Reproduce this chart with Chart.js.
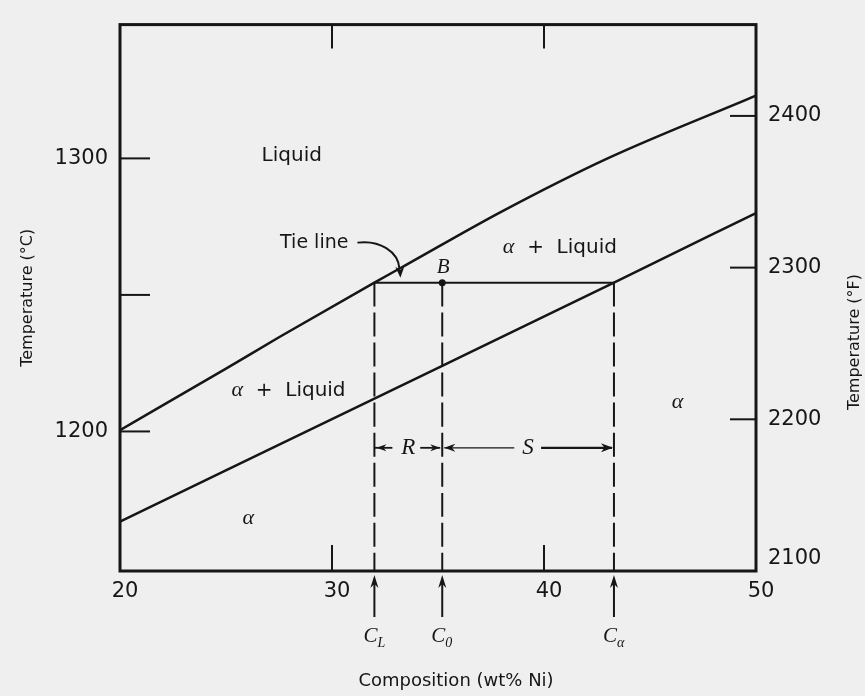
<!DOCTYPE html>
<html>
<head>
<meta charset="utf-8">
<script src="https://cdn.jsdelivr.net/npm/chart.js@4.4.0/dist/chart.umd.min.js"></script>
<style>
  body { margin: 0; background: #efefef; }
  #wrap { width: 865px; height: 696px; }
</style>
</head>
<body>
<div id="wrap"><canvas id="chart" width="865" height="696"></canvas></div>
<script>
// Liquidus e solidus (composição wt% Ni, temperatura °C)
const liquidusNi = [20, 25, 27.5, 32, 33.5, 38, 43, 50];
const liquidusT = [1200.5, 1223, 1234.5, 1254.5, 1261, 1280.5, 1300, 1323];
const solidusNi = [20, 35.2, 43.3, 50];
const solidusT = [1167, 1224, 1254.5, 1280];

// linha de amarração no ponto B
const tieT = 1254.5;
const markNi = [32, 35.2, 43.3]; // C_L, C_0, C_alpha
const markSub = ["L", "0", "α"];

// eixos
const xTicks = [20, 30, 40, 50];
const xMarks = [30, 40];
const cTicks = [1200, 1300];
const cMarks = [1200, 1250, 1300];
const fTicks = [2100, 2200, 2300, 2400];
const fMarks = [2200, 2300, 2400];

const yMin = (2100 - 32) / 1.8;
const yMax = 1349;
const toF = c => c * 1.8 + 32;

const ink = "#161616";
const sans = '"DejaVu Sans", sans-serif';
const serif = '"Liberation Serif", serif';

Chart.defaults.color = ink;
Chart.defaults.font.family = sans;

function pts(xs, ys) {
  return xs.map((x, i) => ({ x: x, y: ys[i] }));
}

function lineSet(label, data, width, dash) {
  return {
    label: label,
    data: data,
    borderColor: ink,
    borderWidth: width,
    borderDash: dash || [],
    pointRadius: 0,
    cubicInterpolationMode: "monotone",
    fill: false
  };
}

const datasets = [
  lineSet("Liquidus", pts(liquidusNi, liquidusT), 2.5),
  lineSet("Solidus", pts(solidusNi, solidusT), 2.5),
  lineSet("Tie line", [{ x: markNi[0], y: tieT }, { x: markNi[2], y: tieT }], 2)
];
markNi.forEach(function (ni) {
  datasets.push(lineSet("C", [{ x: ni, y: tieT }, { x: ni, y: yMin }], 2, [24, 6]));
});
datasets.push({
  label: "B",
  data: [{ x: markNi[1], y: tieT }],
  showLine: false,
  pointRadius: 3.5,
  pointBackgroundColor: ink,
  pointBorderWidth: 0
});

// desenha seta (ponta) na direção ang
function arrowHead(ctx, x, y, ang, len, w) {
  ctx.save();
  ctx.translate(x, y);
  ctx.rotate(ang);
  ctx.beginPath();
  ctx.moveTo(0, 0);
  ctx.lineTo(-len, -w);
  ctx.lineTo(-len * 0.7, 0);
  ctx.lineTo(-len, w);
  ctx.closePath();
  ctx.fill();
  ctx.restore();
}

function seg(ctx, x1, y1, x2, y2) {
  ctx.beginPath();
  ctx.moveTo(x1, y1);
  ctx.lineTo(x2, y2);
  ctx.stroke();
}

// texto composto por partes com fontes diferentes, centrado em cx
function runs(ctx, parts, cx, cy) {
  let total = 0;
  parts.forEach(function (p) { ctx.font = p[1]; total += ctx.measureText(p[0]).width; });
  let x = cx - total / 2;
  ctx.textAlign = "left";
  ctx.textBaseline = "middle";
  parts.forEach(function (p) {
    ctx.font = p[1];
    ctx.fillText(p[0], x, cy);
    x += ctx.measureText(p[0]).width;
  });
}

const diagram = {
  id: "diagram",
  afterDraw(chart) {
    const ctx = chart.ctx;
    const a = chart.chartArea;
    const sx = chart.scales.x, sy = chart.scales.y, sf = chart.scales.y2;
    const X = v => sx.getPixelForValue(v);
    const Y = v => sy.getPixelForValue(v);
    ctx.save();
    ctx.strokeStyle = ink;
    ctx.fillStyle = ink;

    // moldura
    ctx.lineWidth = 3;
    ctx.strokeRect(a.left, a.top, a.right - a.left, a.bottom - a.top);

    // marcas internas
    ctx.lineWidth = 2;
    xMarks.forEach(function (v) {
      seg(ctx, X(v), a.bottom, X(v), a.bottom - 26);
      seg(ctx, X(v), a.top, X(v), a.top + 24);
    });
    cMarks.forEach(function (v) { seg(ctx, a.left, Y(v), a.left + 30, Y(v)); });
    fMarks.forEach(function (v) {
      const p = sf.getPixelForValue(v);
      seg(ctx, a.right - 26, p, a.right, p);
    });

    // rótulos das regiões
    const sf20 = "20px " + sans;
    const al = "italic 22px " + serif;
    runs(ctx, [["Liquid", sf20]], X(28.1), Y(1301));
    runs(ctx, [["α", al], ["  +  ", sf20], ["Liquid", sf20]], X(40.75), Y(1267.4));
    runs(ctx, [["α", al], ["  +  ", sf20], ["Liquid", sf20]], X(27.95), Y(1215));
    runs(ctx, [["α", al]], X(46.3), Y(1210.7));
    runs(ctx, [["α", al]], X(26.05), Y(1168.3));

    // ponto B
    const bx = X(markNi[1]), by = Y(tieT);
    runs(ctx, [["B", "italic 21px " + serif]], bx + 1, by - 15);

    // "Tie line" com seta curva
    const xl = X(markNi[0]);
    const sx0 = xl - 17, sy0 = by - 40;
    const tx = xl + 26, ty = by - 5;
    ctx.font = "19px " + sans;
    ctx.textAlign = "right";
    ctx.textBaseline = "middle";
    ctx.fillText("Tie line", sx0 - 9, sy0);
    ctx.lineWidth = 2;
    ctx.beginPath();
    ctx.moveTo(sx0, sy0);
    ctx.bezierCurveTo(sx0 + 22, sy0 - 3, tx - 2, ty - 26, tx - 1, ty - 9);
    ctx.stroke();
    arrowHead(ctx, tx, ty, Math.PI / 2 - 0.05, 11, 4.5);

    // cotas R e S
    const x0 = X(markNi[1]), xa = X(markNi[2]);
    const yd = Y(1194);
    ctx.lineWidth = 1.8;
    seg(ctx, xl, yd, xl + 18, yd);
    arrowHead(ctx, xl + 2, yd, Math.PI, 10, 3.5);
    seg(ctx, x0 - 22, yd, x0 - 2, yd);
    arrowHead(ctx, x0 - 2, yd, 0, 10, 3.5);
    runs(ctx, [["R", "italic 23px " + serif]], (xl + x0) / 2, yd);
    ctx.lineWidth = 1.2;
    seg(ctx, x0 + 2, yd, x0 + 72, yd);
    arrowHead(ctx, x0 + 2, yd, Math.PI, 11, 4);
    runs(ctx, [["S", "italic 23px " + serif]], (x0 + xa) / 2, yd);
    ctx.lineWidth = 2.2;
    seg(ctx, (x0 + xa) / 2 + 13, yd, xa - 2, yd);
    arrowHead(ctx, xa - 1, yd, 0, 12, 4.5);

    // setas sob o eixo x e rótulos C_L, C_0, C_alpha
    markNi.forEach(function (ni, i) {
      const px = X(ni);
      ctx.lineWidth = 2;
      seg(ctx, px, a.bottom + 46, px, a.bottom + 12);
      arrowHead(ctx, px, a.bottom + 4, -Math.PI / 2, 13, 4);
      ctx.textBaseline = "alphabetic";
      ctx.font = "italic 21px " + serif;
      ctx.textAlign = "right";
      ctx.fillText("C", px + 3, a.bottom + 71);
      ctx.font = "italic 14px " + serif;
      ctx.textAlign = "left";
      ctx.fillText(markSub[i], px + 3, a.bottom + 76);
    });

    // títulos dos eixos
    ctx.font = "18px " + sans;
    ctx.textAlign = "center";
    ctx.textBaseline = "middle";
    ctx.fillText("Composition (wt% Ni)", 456, 681);
    ctx.save();
    ctx.translate(855, 342);
    ctx.rotate(-Math.PI / 2);
    ctx.font = "16px " + sans;
    ctx.fillText("Temperature (°F)", 0, 0);
    ctx.restore();

    ctx.restore();
  }
};

new Chart(document.getElementById("chart"), {
  type: "line",
  data: { datasets: datasets },
  options: {
    responsive: false,
    animation: false,
    layout: { padding: { top: 24, left: 0, right: 0, bottom: 0 } },
    plugins: { legend: { display: false }, tooltip: { enabled: false } },
    scales: {
      x: {
        type: "linear",
        position: "bottom",
        min: 20,
        max: 50,
        grid: { display: false, drawTicks: false },
        border: { display: false },
        ticks: { font: { size: 21 }, padding: 8, labelOffset: 5, callback: v => String(v) },
        afterBuildTicks: s => { s.ticks = xTicks.map(v => ({ value: v })); },
        afterFit: s => { s.height = 125; }
      },
      y: {
        type: "linear",
        position: "left",
        min: yMin,
        max: yMax,
        grid: { display: false, drawTicks: false },
        border: { display: false },
        ticks: { font: { size: 21 }, padding: 12, callback: v => String(v) },
        afterBuildTicks: s => { s.ticks = cTicks.map(v => ({ value: v })); },
        afterFit: s => { s.width = 120; },
        title: {
          display: true,
          text: "Temperature (°C)",
          font: { size: 16 },
          padding: { top: 18, bottom: 0 }
        }
      },
      y2: {
        type: "linear",
        position: "right",
        min: toF(yMin),
        max: toF(yMax),
        grid: { display: false, drawTicks: false },
        border: { display: false },
        ticks: {
          font: { size: 21 },
          padding: 12,
          callback: v => (v === fTicks[0] ? [String(v), ""] : String(v))
        },
        afterBuildTicks: s => { s.ticks = fTicks.map(v => ({ value: v })); },
        afterFit: s => { s.width = 109; }
      }
    }
  },
  plugins: [diagram]
});
</script>
</body>
</html>
